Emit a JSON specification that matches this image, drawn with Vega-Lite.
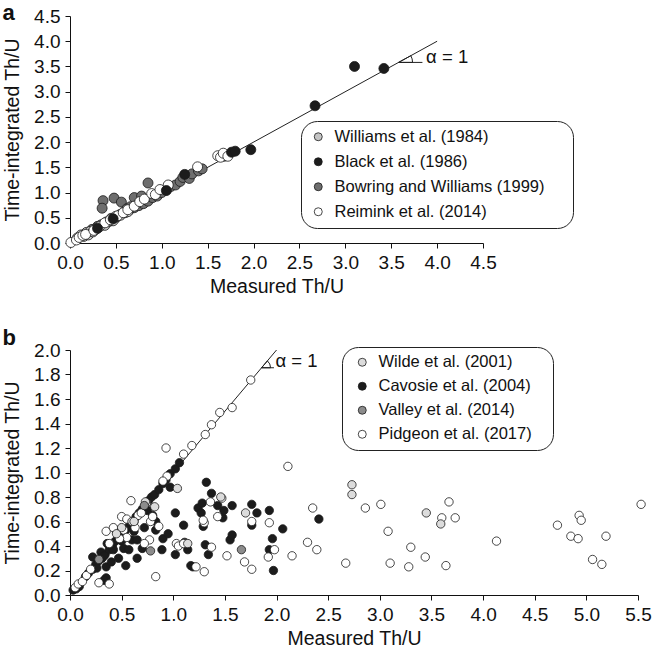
{
 "$schema": "https://vega.github.io/schema/vega-lite/v6.json",
 "padding": {"left": 2, "top": 2, "right": 5, "bottom": 5},
 "spacing": 31,
 "config": {
  "font": "Liberation Sans",
  "view": {"stroke": null},
  "axis": {"domainColor": "#111", "tickColor": "#111", "labelColor": "#111", "titleColor": "#111", "labelFontSize": 19, "titleFontSize": 19.5, "titleFontWeight": "normal", "tickSize": 5, "labelPadding": 5, "grid": false, "domainWidth": 1, "tickWidth": 1, "labelFlush": false, "labelOverlap": false},
  "axisY": {"titlePadding": 11},
  "axisX": {"titlePadding": 5}
 },
 "resolve": {"scale": {"color": "independent"}, "legend": {"color": "independent"}},
 "datasets": {
  "a": [
   {"m":0.36,"t":0.84,"s":"Bowring and Williams (1999)"},{"m":0.35,"t":0.69,"s":"Bowring and Williams (1999)"},{"m":0.48,"t":0.89,"s":"Bowring and Williams (1999)"},{"m":0.56,"t":0.81,"s":"Bowring and Williams (1999)"},{"m":0.85,"t":1.19,"s":"Bowring and Williams (1999)"},{"m":0.70,"t":0.90,"s":"Bowring and Williams (1999)"},{"m":0.78,"t":0.93,"s":"Bowring and Williams (1999)"},{"m":0.18,"t":0.20,"s":"Bowring and Williams (1999)"},{"m":0.24,"t":0.27,"s":"Bowring and Williams (1999)"},{"m":0.30,"t":0.33,"s":"Bowring and Williams (1999)"},{"m":0.34,"t":0.36,"s":"Bowring and Williams (1999)"},{"m":0.40,"t":0.42,"s":"Bowring and Williams (1999)"},{"m":0.45,"t":0.49,"s":"Bowring and Williams (1999)"},{"m":0.50,"t":0.50,"s":"Bowring and Williams (1999)"},{"m":0.55,"t":0.57,"s":"Bowring and Williams (1999)"},{"m":0.60,"t":0.62,"s":"Bowring and Williams (1999)"},{"m":0.65,"t":0.66,"s":"Bowring and Williams (1999)"},{"m":0.70,"t":0.70,"s":"Bowring and Williams (1999)"},{"m":0.75,"t":0.74,"s":"Bowring and Williams (1999)"},{"m":0.80,"t":0.78,"s":"Bowring and Williams (1999)"},{"m":0.85,"t":0.83,"s":"Bowring and Williams (1999)"},{"m":0.90,"t":0.90,"s":"Bowring and Williams (1999)"},{"m":0.95,"t":0.93,"s":"Bowring and Williams (1999)"},{"m":1.00,"t":1.00,"s":"Bowring and Williams (1999)"},{"m":1.05,"t":1.05,"s":"Bowring and Williams (1999)"},{"m":1.10,"t":1.12,"s":"Bowring and Williams (1999)"},{"m":1.15,"t":1.15,"s":"Bowring and Williams (1999)"},{"m":1.20,"t":1.22,"s":"Bowring and Williams (1999)"},{"m":1.23,"t":1.30,"s":"Bowring and Williams (1999)"},{"m":1.30,"t":1.28,"s":"Bowring and Williams (1999)"},{"m":1.33,"t":1.37,"s":"Bowring and Williams (1999)"},{"m":1.40,"t":1.43,"s":"Bowring and Williams (1999)"},{"m":1.44,"t":1.47,"s":"Bowring and Williams (1999)"},{"m":1.68,"t":1.72,"s":"Bowring and Williams (1999)"},{"m":0.62,"t":0.68,"s":"Bowring and Williams (1999)"},{"m":0.66,"t":0.72,"s":"Bowring and Williams (1999)"},
   {"m":0.08,"t":0.10,"s":"Williams et al. (1984)"},{"m":0.12,"t":0.16,"s":"Williams et al. (1984)"},{"m":0.15,"t":0.13,"s":"Williams et al. (1984)"},{"m":0.18,"t":0.21,"s":"Williams et al. (1984)"},{"m":0.20,"t":0.16,"s":"Williams et al. (1984)"},{"m":0.22,"t":0.23,"s":"Williams et al. (1984)"},{"m":0.25,"t":0.22,"s":"Williams et al. (1984)"},{"m":0.28,"t":0.27,"s":"Williams et al. (1984)"},{"m":0.30,"t":0.31,"s":"Williams et al. (1984)"},{"m":0.33,"t":0.34,"s":"Williams et al. (1984)"},{"m":0.36,"t":0.37,"s":"Williams et al. (1984)"},{"m":0.38,"t":0.35,"s":"Williams et al. (1984)"},{"m":0.42,"t":0.42,"s":"Williams et al. (1984)"},{"m":0.45,"t":0.45,"s":"Williams et al. (1984)"},{"m":0.47,"t":0.44,"s":"Williams et al. (1984)"},{"m":0.50,"t":0.53,"s":"Williams et al. (1984)"},{"m":0.55,"t":0.55,"s":"Williams et al. (1984)"},{"m":0.60,"t":0.60,"s":"Williams et al. (1984)"},{"m":0.63,"t":0.62,"s":"Williams et al. (1984)"},
   {"m":0.01,"t":0.01,"s":"Reimink et al. (2014)"},{"m":0.07,"t":0.06,"s":"Reimink et al. (2014)"},{"m":0.10,"t":0.11,"s":"Reimink et al. (2014)"},{"m":0.14,"t":0.15,"s":"Reimink et al. (2014)"},{"m":0.17,"t":0.17,"s":"Reimink et al. (2014)"},{"m":0.26,"t":0.25,"s":"Reimink et al. (2014)"},{"m":0.32,"t":0.32,"s":"Reimink et al. (2014)"},{"m":0.38,"t":0.40,"s":"Reimink et al. (2014)"},{"m":0.44,"t":0.46,"s":"Reimink et al. (2014)"},{"m":0.52,"t":0.54,"s":"Reimink et al. (2014)"},{"m":0.58,"t":0.60,"s":"Reimink et al. (2014)"},{"m":0.63,"t":0.66,"s":"Reimink et al. (2014)"},{"m":0.70,"t":0.73,"s":"Reimink et al. (2014)"},{"m":0.76,"t":0.82,"s":"Reimink et al. (2014)"},{"m":0.81,"t":0.87,"s":"Reimink et al. (2014)"},{"m":0.89,"t":0.98,"s":"Reimink et al. (2014)"},{"m":0.93,"t":0.96,"s":"Reimink et al. (2014)"},{"m":0.98,"t":1.06,"s":"Reimink et al. (2014)"},{"m":1.07,"t":1.15,"s":"Reimink et al. (2014)"},{"m":1.39,"t":1.51,"s":"Reimink et al. (2014)"},{"m":1.61,"t":1.73,"s":"Reimink et al. (2014)"},{"m":1.64,"t":1.70,"s":"Reimink et al. (2014)"},{"m":1.67,"t":1.78,"s":"Reimink et al. (2014)"},{"m":1.72,"t":1.72,"s":"Reimink et al. (2014)"},
   {"m":0.30,"t":0.29,"s":"Black et al. (1986)"},{"m":0.47,"t":0.48,"s":"Black et al. (1986)"},{"m":1.05,"t":1.04,"s":"Black et al. (1986)"},{"m":1.25,"t":1.36,"s":"Black et al. (1986)"},{"m":1.76,"t":1.80,"s":"Black et al. (1986)"},{"m":1.80,"t":1.82,"s":"Black et al. (1986)"},{"m":1.97,"t":1.85,"s":"Black et al. (1986)"},{"m":2.67,"t":2.72,"s":"Black et al. (1986)"},{"m":3.10,"t":3.50,"s":"Black et al. (1986)"},{"m":3.42,"t":3.46,"s":"Black et al. (1986)"}
  ],
  "b": [
   {"m":0.03,"t":0.04,"s":"Cavosie et al. (2004)"},{"m":0.06,"t":0.05,"s":"Cavosie et al. (2004)"},{"m":0.09,"t":0.07,"s":"Cavosie et al. (2004)"},{"m":0.15,"t":0.15,"s":"Cavosie et al. (2004)"},{"m":0.18,"t":0.18,"s":"Cavosie et al. (2004)"},{"m":0.22,"t":0.21,"s":"Cavosie et al. (2004)"},{"m":0.25,"t":0.25,"s":"Cavosie et al. (2004)"},{"m":0.28,"t":0.28,"s":"Cavosie et al. (2004)"},{"m":0.31,"t":0.30,"s":"Cavosie et al. (2004)"},{"m":0.34,"t":0.33,"s":"Cavosie et al. (2004)"},{"m":0.38,"t":0.37,"s":"Cavosie et al. (2004)"},{"m":0.41,"t":0.40,"s":"Cavosie et al. (2004)"},{"m":0.44,"t":0.44,"s":"Cavosie et al. (2004)"},{"m":0.47,"t":0.48,"s":"Cavosie et al. (2004)"},{"m":0.50,"t":0.50,"s":"Cavosie et al. (2004)"},{"m":0.54,"t":0.53,"s":"Cavosie et al. (2004)"},{"m":0.57,"t":0.56,"s":"Cavosie et al. (2004)"},{"m":0.60,"t":0.60,"s":"Cavosie et al. (2004)"},{"m":0.64,"t":0.64,"s":"Cavosie et al. (2004)"},{"m":0.67,"t":0.67,"s":"Cavosie et al. (2004)"},{"m":0.70,"t":0.70,"s":"Cavosie et al. (2004)"},{"m":0.73,"t":0.74,"s":"Cavosie et al. (2004)"},{"m":0.76,"t":0.77,"s":"Cavosie et al. (2004)"},{"m":0.79,"t":0.80,"s":"Cavosie et al. (2004)"},{"m":0.82,"t":0.82,"s":"Cavosie et al. (2004)"},{"m":0.86,"t":0.86,"s":"Cavosie et al. (2004)"},{"m":0.90,"t":0.91,"s":"Cavosie et al. (2004)"},{"m":0.93,"t":0.94,"s":"Cavosie et al. (2004)"},{"m":0.97,"t":0.99,"s":"Cavosie et al. (2004)"},{"m":1.02,"t":1.03,"s":"Cavosie et al. (2004)"},{"m":1.06,"t":1.08,"s":"Cavosie et al. (2004)"},
   {"m":0.22,"t":0.31,"s":"Cavosie et al. (2004)"},{"m":0.30,"t":0.35,"s":"Cavosie et al. (2004)"},{"m":0.33,"t":0.32,"s":"Cavosie et al. (2004)"},{"m":0.36,"t":0.42,"s":"Cavosie et al. (2004)"},{"m":0.42,"t":0.37,"s":"Cavosie et al. (2004)"},{"m":0.45,"t":0.52,"s":"Cavosie et al. (2004)"},{"m":0.50,"t":0.44,"s":"Cavosie et al. (2004)"},{"m":0.52,"t":0.38,"s":"Cavosie et al. (2004)"},{"m":0.57,"t":0.37,"s":"Cavosie et al. (2004)"},{"m":0.60,"t":0.45,"s":"Cavosie et al. (2004)"},{"m":0.62,"t":0.52,"s":"Cavosie et al. (2004)"},{"m":0.65,"t":0.45,"s":"Cavosie et al. (2004)"},{"m":0.70,"t":0.38,"s":"Cavosie et al. (2004)"},{"m":0.72,"t":0.55,"s":"Cavosie et al. (2004)"},{"m":0.75,"t":0.69,"s":"Cavosie et al. (2004)"},{"m":0.80,"t":0.65,"s":"Cavosie et al. (2004)"},{"m":0.83,"t":0.60,"s":"Cavosie et al. (2004)"},{"m":0.83,"t":0.53,"s":"Cavosie et al. (2004)"},{"m":0.89,"t":0.37,"s":"Cavosie et al. (2004)"},{"m":0.90,"t":0.46,"s":"Cavosie et al. (2004)"},{"m":0.95,"t":0.50,"s":"Cavosie et al. (2004)"},{"m":0.97,"t":0.88,"s":"Cavosie et al. (2004)"},{"m":0.65,"t":0.30,"s":"Cavosie et al. (2004)"},{"m":0.54,"t":0.24,"s":"Cavosie et al. (2004)"},{"m":0.35,"t":0.14,"s":"Cavosie et al. (2004)"},{"m":0.33,"t":0.12,"s":"Cavosie et al. (2004)"},{"m":0.35,"t":0.23,"s":"Cavosie et al. (2004)"},{"m":0.26,"t":0.22,"s":"Cavosie et al. (2004)"},{"m":0.40,"t":0.27,"s":"Cavosie et al. (2004)"},{"m":0.47,"t":0.30,"s":"Cavosie et al. (2004)"},
   {"m":1.02,"t":0.67,"s":"Cavosie et al. (2004)"},{"m":1.02,"t":0.33,"s":"Cavosie et al. (2004)"},{"m":1.10,"t":0.57,"s":"Cavosie et al. (2004)"},{"m":1.11,"t":0.43,"s":"Cavosie et al. (2004)"},{"m":1.14,"t":0.37,"s":"Cavosie et al. (2004)"},{"m":1.17,"t":0.24,"s":"Cavosie et al. (2004)"},{"m":1.19,"t":0.23,"s":"Cavosie et al. (2004)"},{"m":1.24,"t":0.71,"s":"Cavosie et al. (2004)"},{"m":1.27,"t":0.67,"s":"Cavosie et al. (2004)"},{"m":1.28,"t":0.75,"s":"Cavosie et al. (2004)"},{"m":1.29,"t":0.56,"s":"Cavosie et al. (2004)"},{"m":1.31,"t":0.41,"s":"Cavosie et al. (2004)"},{"m":1.32,"t":0.92,"s":"Cavosie et al. (2004)"},{"m":1.34,"t":0.33,"s":"Cavosie et al. (2004)"},{"m":1.37,"t":0.83,"s":"Cavosie et al. (2004)"},{"m":1.43,"t":0.73,"s":"Cavosie et al. (2004)"},{"m":1.48,"t":0.63,"s":"Cavosie et al. (2004)"},{"m":1.49,"t":0.69,"s":"Cavosie et al. (2004)"},{"m":1.55,"t":0.45,"s":"Cavosie et al. (2004)"},{"m":1.57,"t":0.49,"s":"Cavosie et al. (2004)"},{"m":1.57,"t":0.73,"s":"Cavosie et al. (2004)"},{"m":1.76,"t":0.74,"s":"Cavosie et al. (2004)"},{"m":1.76,"t":0.57,"s":"Cavosie et al. (2004)"},{"m":1.81,"t":0.67,"s":"Cavosie et al. (2004)"},{"m":1.93,"t":0.69,"s":"Cavosie et al. (2004)"},{"m":1.93,"t":0.37,"s":"Cavosie et al. (2004)"},{"m":1.96,"t":0.46,"s":"Cavosie et al. (2004)"},{"m":1.97,"t":0.20,"s":"Cavosie et al. (2004)"},{"m":2.06,"t":0.54,"s":"Cavosie et al. (2004)"},{"m":2.41,"t":0.62,"s":"Cavosie et al. (2004)"},
   {"m":0.05,"t":0.06,"s":"Pidgeon et al. (2017)"},{"m":0.08,"t":0.09,"s":"Pidgeon et al. (2017)"},{"m":0.12,"t":0.11,"s":"Pidgeon et al. (2017)"},{"m":0.16,"t":0.16,"s":"Pidgeon et al. (2017)"},{"m":0.20,"t":0.21,"s":"Pidgeon et al. (2017)"},{"m":0.28,"t":0.10,"s":"Pidgeon et al. (2017)"},{"m":0.38,"t":0.09,"s":"Pidgeon et al. (2017)"},{"m":1.75,"t":1.755,"s":"Pidgeon et al. (2017)"},{"m":1.57,"t":1.53,"s":"Pidgeon et al. (2017)"},{"m":1.45,"t":1.49,"s":"Pidgeon et al. (2017)"},{"m":1.37,"t":1.39,"s":"Pidgeon et al. (2017)"},{"m":1.31,"t":1.31,"s":"Pidgeon et al. (2017)"},{"m":1.18,"t":1.22,"s":"Pidgeon et al. (2017)"},{"m":1.10,"t":1.15,"s":"Pidgeon et al. (2017)"},{"m":0.93,"t":1.20,"s":"Pidgeon et al. (2017)"},{"m":0.94,"t":0.97,"s":"Pidgeon et al. (2017)"},{"m":0.90,"t":0.93,"s":"Pidgeon et al. (2017)"},
   {"m":0.35,"t":0.52,"s":"Pidgeon et al. (2017)"},{"m":0.42,"t":0.55,"s":"Pidgeon et al. (2017)"},{"m":0.50,"t":0.64,"s":"Pidgeon et al. (2017)"},{"m":0.59,"t":0.77,"s":"Pidgeon et al. (2017)"},{"m":0.55,"t":0.62,"s":"Pidgeon et al. (2017)"},{"m":0.62,"t":0.60,"s":"Pidgeon et al. (2017)"},{"m":0.66,"t":0.65,"s":"Pidgeon et al. (2017)"},{"m":0.69,"t":0.67,"s":"Pidgeon et al. (2017)"},{"m":0.74,"t":0.75,"s":"Pidgeon et al. (2017)"},{"m":0.78,"t":0.60,"s":"Pidgeon et al. (2017)"},{"m":0.80,"t":0.64,"s":"Pidgeon et al. (2017)"},{"m":0.77,"t":0.45,"s":"Pidgeon et al. (2017)"},{"m":0.72,"t":0.42,"s":"Pidgeon et al. (2017)"},{"m":0.86,"t":0.56,"s":"Pidgeon et al. (2017)"},{"m":0.52,"t":0.53,"s":"Pidgeon et al. (2017)"},{"m":0.55,"t":0.47,"s":"Pidgeon et al. (2017)"},{"m":0.48,"t":0.46,"s":"Pidgeon et al. (2017)"},{"m":0.38,"t":0.42,"s":"Pidgeon et al. (2017)"},{"m":0.63,"t":0.55,"s":"Pidgeon et al. (2017)"},{"m":0.83,"t":0.15,"s":"Pidgeon et al. (2017)"},{"m":1.03,"t":0.42,"s":"Pidgeon et al. (2017)"},{"m":1.05,"t":0.40,"s":"Pidgeon et al. (2017)"},{"m":1.10,"t":0.42,"s":"Pidgeon et al. (2017)"},
   {"m":1.22,"t":0.23,"s":"Pidgeon et al. (2017)"},{"m":1.30,"t":0.19,"s":"Pidgeon et al. (2017)"},{"m":1.30,"t":0.59,"s":"Pidgeon et al. (2017)"},{"m":1.29,"t":0.61,"s":"Pidgeon et al. (2017)"},{"m":1.36,"t":0.76,"s":"Pidgeon et al. (2017)"},{"m":1.37,"t":0.39,"s":"Pidgeon et al. (2017)"},{"m":1.43,"t":0.64,"s":"Pidgeon et al. (2017)"},{"m":1.47,"t":0.79,"s":"Pidgeon et al. (2017)"},{"m":1.52,"t":0.32,"s":"Pidgeon et al. (2017)"},{"m":1.69,"t":0.27,"s":"Pidgeon et al. (2017)"},{"m":1.76,"t":0.21,"s":"Pidgeon et al. (2017)"},{"m":1.76,"t":0.60,"s":"Pidgeon et al. (2017)"},{"m":1.92,"t":0.31,"s":"Pidgeon et al. (2017)"},{"m":1.93,"t":0.59,"s":"Pidgeon et al. (2017)"},{"m":1.98,"t":0.37,"s":"Pidgeon et al. (2017)"},{"m":2.11,"t":1.05,"s":"Pidgeon et al. (2017)"},{"m":2.15,"t":0.32,"s":"Pidgeon et al. (2017)"},{"m":2.30,"t":0.43,"s":"Pidgeon et al. (2017)"},{"m":2.35,"t":0.71,"s":"Pidgeon et al. (2017)"},{"m":2.39,"t":0.37,"s":"Pidgeon et al. (2017)"},{"m":2.67,"t":0.26,"s":"Pidgeon et al. (2017)"},{"m":2.86,"t":0.71,"s":"Pidgeon et al. (2017)"},{"m":3.01,"t":0.74,"s":"Pidgeon et al. (2017)"},{"m":3.08,"t":0.52,"s":"Pidgeon et al. (2017)"},{"m":3.10,"t":0.26,"s":"Pidgeon et al. (2017)"},{"m":3.28,"t":0.23,"s":"Pidgeon et al. (2017)"},{"m":3.30,"t":0.39,"s":"Pidgeon et al. (2017)"},{"m":3.44,"t":0.31,"s":"Pidgeon et al. (2017)"},{"m":3.60,"t":0.63,"s":"Pidgeon et al. (2017)"},{"m":3.64,"t":0.24,"s":"Pidgeon et al. (2017)"},{"m":3.67,"t":0.76,"s":"Pidgeon et al. (2017)"},{"m":3.73,"t":0.63,"s":"Pidgeon et al. (2017)"},{"m":4.13,"t":0.44,"s":"Pidgeon et al. (2017)"},{"m":4.72,"t":0.57,"s":"Pidgeon et al. (2017)"},{"m":4.85,"t":0.48,"s":"Pidgeon et al. (2017)"},{"m":4.92,"t":0.46,"s":"Pidgeon et al. (2017)"},{"m":4.93,"t":0.65,"s":"Pidgeon et al. (2017)"},{"m":4.95,"t":0.61,"s":"Pidgeon et al. (2017)"},{"m":5.06,"t":0.29,"s":"Pidgeon et al. (2017)"},{"m":5.15,"t":0.25,"s":"Pidgeon et al. (2017)"},{"m":5.19,"t":0.48,"s":"Pidgeon et al. (2017)"},{"m":5.53,"t":0.74,"s":"Pidgeon et al. (2017)"},
   {"m":0.60,"t":0.60,"s":"Wilde et al. (2001)"},{"m":0.62,"t":0.60,"s":"Wilde et al. (2001)"},{"m":0.73,"t":0.76,"s":"Wilde et al. (2001)"},{"m":1.04,"t":0.87,"s":"Wilde et al. (2001)"},{"m":1.46,"t":0.80,"s":"Wilde et al. (2001)"},{"m":1.70,"t":0.67,"s":"Wilde et al. (2001)"},{"m":1.14,"t":0.42,"s":"Wilde et al. (2001)"},{"m":2.73,"t":0.90,"s":"Wilde et al. (2001)"},{"m":2.73,"t":0.82,"s":"Wilde et al. (2001)"},{"m":3.45,"t":0.67,"s":"Wilde et al. (2001)"},{"m":3.59,"t":0.58,"s":"Wilde et al. (2001)"},{"m":0.50,"t":0.55,"s":"Wilde et al. (2001)"},{"m":0.45,"t":0.50,"s":"Wilde et al. (2001)"},{"m":0.82,"t":0.72,"s":"Wilde et al. (2001)"},
   {"m":0.28,"t":0.29,"s":"Valley et al. (2014)"},{"m":0.72,"t":0.73,"s":"Valley et al. (2014)"},{"m":0.78,"t":0.36,"s":"Valley et al. (2014)"},{"m":1.66,"t":0.37,"s":"Valley et al. (2014)"}
  ]
 },
 "vconcat": [
  {
   "width": 413, "height": 227,
   "title": {"text": "a", "anchor": "start", "frame": "bounds", "fontSize": 22, "fontWeight": "bold", "offset": -18, "color": "#111"},
   "layer": [
    {"data": {"values": [{}]}, "mark": {"type": "rule", "color": "#222", "strokeWidth": 1},
     "encoding": {
      "x": {"datum": 0, "type": "quantitative", "scale": {"domain": [0, 4.5], "nice": false}, "axis": {"title": "Measured Th/U", "values": [0, 0.5, 1, 1.5, 2, 2.5, 3, 3.5, 4, 4.5], "tickCount": 20, "format": ".1f", "labelOverlap": false}},
      "y": {"datum": 0, "type": "quantitative", "scale": {"domain": [0, 4.5], "nice": false}, "axis": {"title": "Time-integrated Th/U", "values": [0, 0.5, 1, 1.5, 2, 2.5, 3, 3.5, 4, 4.5], "tickCount": 20, "format": ".1f", "labelOverlap": false}},
      "x2": {"datum": 4}, "y2": {"datum": 4}}},
    {"data": {"values": [{}]}, "mark": {"type": "rule", "color": "#222", "strokeWidth": 1},
     "encoding": {"x": {"datum": 3.58, "type": "quantitative"}, "x2": {"datum": 3.84}, "y": {"datum": 3.58, "type": "quantitative"}}},
    {"data": {"values": [{}]}, "mark": {"type": "arc", "radius": 14, "theta": 1.069, "theta2": 1.5708, "filled": false, "color": "#222", "strokeWidth": 1},
     "encoding": {"x": {"datum": 3.58, "type": "quantitative"}, "y": {"datum": 3.58, "type": "quantitative"}}},
    {"data": {"values": [{}]}, "mark": {"type": "text", "text": "α = 1", "fontSize": 18.5, "align": "left", "baseline": "alphabetic", "color": "#111"},
     "encoding": {"x": {"datum": 3.88, "type": "quantitative"}, "y": {"datum": 3.57, "type": "quantitative"}}},
    {"data": {"name": "a"},
     "mark": {"type": "circle", "size": 100, "opacity": 1, "stroke": "#1a1a1a", "strokeWidth": 0.8},
     "encoding": {
      "x": {"field": "m", "type": "quantitative", "scale": {"domain": [0, 4.5], "nice": false}, "axis": {"title": "Measured Th/U", "values": [0, 0.5, 1, 1.5, 2, 2.5, 3, 3.5, 4, 4.5], "tickCount": 20, "format": ".1f", "labelOverlap": false}},
      "y": {"field": "t", "type": "quantitative", "scale": {"domain": [0, 4.5], "nice": false}, "axis": {"title": "Time-integrated Th/U", "values": [0, 0.5, 1, 1.5, 2, 2.5, 3, 3.5, 4, 4.5], "tickCount": 20, "format": ".1f", "labelOverlap": false}},
      "color": {"field": "s", "type": "nominal",
       "scale": {"domain": ["Williams et al. (1984)", "Black et al. (1986)", "Bowring and Williams (1999)", "Reimink et al. (2014)"], "range": ["#c4c4c4", "#1c1c1c", "#6e6e6e", "#ffffff"]},
       "legend": {"title": "MM", "titleOrient": "right", "titleColor": "transparent", "titleFontSize": 10, "titlePadding": 4, "orient": "none", "legendX": 231, "legendY": 105, "strokeColor": "#222", "cornerRadius": 16, "padding": 7.5, "symbolOffset": 1.5, "fillColor": "white", "symbolType": "circle", "symbolSize": 64, "symbolStrokeColor": "#1a1a1a", "symbolStrokeWidth": 0.8, "labelFontSize": 16.5, "labelLimit": 400, "rowPadding": 8, "labelOffset": 8, "labelColor": "#111"}}
     }}
   ]
  },
  {
   "width": 568, "height": 245,
   "title": {"text": "b", "anchor": "start", "frame": "bounds", "fontSize": 22, "fontWeight": "bold", "offset": -9, "color": "#111"},
   "layer": [
    {"data": {"values": [{}]}, "mark": {"type": "rule", "color": "#222", "strokeWidth": 1},
     "encoding": {
      "x": {"datum": 0, "type": "quantitative", "scale": {"domain": [0, 5.5], "nice": false}, "axis": {"title": "Measured Th/U", "values": [0, 0.5, 1, 1.5, 2, 2.5, 3, 3.5, 4, 4.5, 5, 5.5], "tickCount": 20, "format": ".1f", "labelOverlap": false}},
      "y": {"datum": 0, "type": "quantitative", "scale": {"domain": [0, 2], "nice": false}, "axis": {"title": "Time-integrated Th/U", "values": [0, 0.2, 0.4, 0.6, 0.8, 1, 1.2, 1.4, 1.6, 1.8, 2], "tickCount": 20, "format": ".1f", "labelOverlap": false}},
      "x2": {"datum": 2}, "y2": {"datum": 2}}},
    {"data": {"values": [{}]}, "mark": {"type": "rule", "color": "#222", "strokeWidth": 1},
     "encoding": {"x": {"datum": 1.855, "type": "quantitative"}, "x2": {"datum": 1.975}, "y": {"datum": 1.855, "type": "quantitative"}}},
    {"data": {"values": [{}]}, "mark": {"type": "arc", "radius": 9, "theta": 0.701, "theta2": 1.5708, "filled": false, "color": "#222", "strokeWidth": 1},
     "encoding": {"x": {"datum": 1.855, "type": "quantitative"}, "y": {"datum": 1.855, "type": "quantitative"}}},
    {"data": {"values": [{}]}, "mark": {"type": "text", "text": "α = 1", "fontSize": 18.5, "align": "left", "baseline": "alphabetic", "color": "#111"},
     "encoding": {"x": {"datum": 1.99, "type": "quantitative"}, "y": {"datum": 1.86, "type": "quantitative"}}},
    {"data": {"name": "b"},
     "mark": {"type": "circle", "size": 70, "opacity": 1, "stroke": "#1a1a1a", "strokeWidth": 0.8},
     "encoding": {
      "x": {"field": "m", "type": "quantitative", "scale": {"domain": [0, 5.5], "nice": false}, "axis": {"title": "Measured Th/U", "values": [0, 0.5, 1, 1.5, 2, 2.5, 3, 3.5, 4, 4.5, 5, 5.5], "tickCount": 20, "format": ".1f", "labelOverlap": false}},
      "y": {"field": "t", "type": "quantitative", "scale": {"domain": [0, 2], "nice": false}, "axis": {"title": "Time-integrated Th/U", "values": [0, 0.2, 0.4, 0.6, 0.8, 1, 1.2, 1.4, 1.6, 1.8, 2], "tickCount": 20, "format": ".1f", "labelOverlap": false}},
      "color": {"field": "s", "type": "nominal",
       "scale": {"domain": ["Wilde et al. (2001)", "Cavosie et al. (2004)", "Valley et al. (2014)", "Pidgeon et al. (2017)"], "range": ["#dcdcdc", "#1c1c1c", "#8c8c8c", "#ffffff"]},
       "legend": {"title": "M", "titleOrient": "right", "titleColor": "transparent", "titleFontSize": 10, "titlePadding": 5.5, "orient": "none", "legendX": 272, "legendY": -3, "strokeColor": "#222", "cornerRadius": 16, "padding": 7, "fillColor": "white", "symbolType": "circle", "symbolSize": 64, "symbolOffset": 5, "symbolStrokeColor": "#1a1a1a", "symbolStrokeWidth": 0.8, "labelFontSize": 16.5, "labelLimit": 400, "rowPadding": 7, "labelOffset": 8, "labelColor": "#111"}}
     }}
   ]
  }
 ]
}
